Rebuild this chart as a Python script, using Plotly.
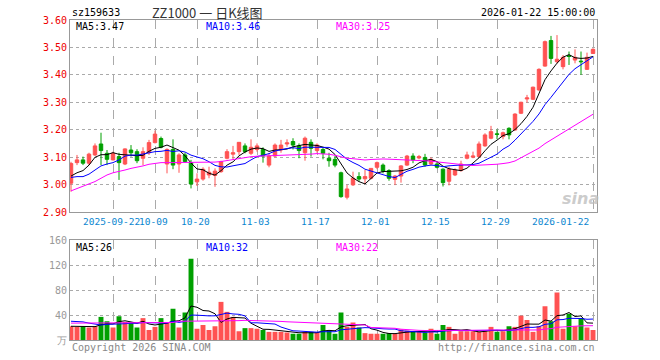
import plotly.graph_objects as go

dates = (
    ["2025-09-%02d" % d for d in [11, 12, 15, 16, 17, 18, 19, 22, 23, 24, 25, 26, 29, 30]]
    + ["2025-10-%02d" % d for d in [9, 10, 13, 14, 15, 16, 17, 20, 21, 22, 23, 24, 27, 28, 29, 30, 31]]
    + ["2025-11-%02d" % d for d in [3, 4, 5, 6, 7, 10, 11, 12, 13, 14, 17, 18, 19, 20, 21, 24, 25, 26, 27, 28]]
    + ["2025-12-%02d" % d for d in [1, 2, 3, 4, 5, 8, 9, 10, 11, 12, 15, 16, 17, 18, 19, 22, 23, 24, 25, 26, 29, 30, 31]]
    + ["2026-01-%02d" % d for d in [5, 6, 7, 8, 9, 12, 13, 14, 15, 16, 19, 20, 21, 22]]
)

opens = [3.005, 3.080, 3.090, 3.078, 3.108, 3.148, 3.114, 3.090, 3.102, 3.075,
         3.126, 3.120, 3.096, 3.116, 3.153, 3.168, 3.075, 3.128, 3.075, 3.108,
         3.080, 3.010, 3.020, 3.035, 3.033, 3.047, 3.096, 3.111, 3.120, 3.141,
         3.114, 3.128, 3.128, 3.071, 3.104, 3.126, 3.148, 3.157, 3.141, 3.116,
         3.154, 3.124, 3.128, 3.096, 3.092, 3.043, 2.954, 2.999, 3.029, 3.021,
         3.023, 3.063, 3.071, 3.051, 3.019, 3.031, 3.071, 3.104, 3.097, 3.099,
         3.075, 3.075, 3.056, 3.012, 3.035, 3.051, 3.096, 3.100, 3.102, 3.141,
         3.169, 3.185, 3.175, 3.205, 3.199, 3.260, 3.312, 3.311, 3.345, 3.432,
         3.525, 3.448, 3.430, 3.470, 3.454, 3.450, 3.420, 3.478]
highs = [3.083, 3.108, 3.102, 3.116, 3.150, 3.189, 3.126, 3.120, 3.116, 3.132,
         3.144, 3.129, 3.136, 3.163, 3.197, 3.175, 3.132, 3.165, 3.114, 3.116,
         3.090, 3.041, 3.063, 3.065, 3.059, 3.087, 3.129, 3.141, 3.155, 3.150,
         3.165, 3.150, 3.136, 3.114, 3.150, 3.163, 3.165, 3.169, 3.150, 3.175,
         3.165, 3.150, 3.136, 3.116, 3.104, 3.047, 2.999, 3.047, 3.045, 3.053,
         3.059, 3.084, 3.077, 3.056, 3.035, 3.071, 3.108, 3.114, 3.108, 3.112,
         3.099, 3.084, 3.059, 3.065, 3.059, 3.087, 3.120, 3.120, 3.157, 3.187,
         3.214, 3.201, 3.193, 3.209, 3.260, 3.302, 3.327, 3.357, 3.424, 3.525,
         3.542, 3.545, 3.472, 3.485, 3.493, 3.485, 3.481, 3.497]
lows = [2.974, 3.071, 3.071, 3.071, 3.104, 3.071, 3.071, 3.088, 3.017, 3.071,
        3.102, 3.078, 3.071, 3.108, 3.150, 3.132, 3.041, 3.056, 3.043, 3.080,
        2.986, 2.995, 3.014, 3.023, 2.992, 3.043, 3.092, 3.092, 3.108, 3.114,
        3.108, 3.120, 3.080, 3.063, 3.099, 3.116, 3.138, 3.128, 3.096, 3.087,
        3.102, 3.116, 3.092, 3.065, 3.063, 2.952, 2.946, 2.995, 3.011, 3.002,
        3.019, 3.056, 3.041, 3.014, 2.998, 3.007, 3.068, 3.078, 3.092, 3.065,
        3.071, 3.059, 2.993, 2.997, 3.031, 3.047, 3.092, 3.096, 3.099, 3.138,
        3.165, 3.165, 3.165, 3.165, 3.197, 3.257, 3.299, 3.308, 3.342, 3.430,
        3.440, 3.442, 3.420, 3.436, 3.442, 3.400, 3.418, 3.476]
closes = [3.077, 3.090, 3.078, 3.111, 3.141, 3.124, 3.092, 3.114, 3.080, 3.130,
          3.116, 3.087, 3.120, 3.153, 3.184, 3.136, 3.128, 3.071, 3.108, 3.084,
          3.002, 3.020, 3.056, 3.045, 3.049, 3.084, 3.120, 3.116, 3.154, 3.120,
          3.136, 3.141, 3.104, 3.104, 3.144, 3.144, 3.152, 3.144, 3.124, 3.169,
          3.132, 3.144, 3.114, 3.087, 3.071, 2.956, 2.984, 3.023, 3.020, 3.029,
          3.059, 3.080, 3.049, 3.023, 3.031, 3.068, 3.104, 3.090, 3.102, 3.071,
          3.092, 3.063, 3.007, 3.056, 3.053, 3.075, 3.108, 3.104, 3.148, 3.181,
          3.193, 3.183, 3.189, 3.181, 3.257, 3.300, 3.316, 3.355, 3.420, 3.521,
          3.460, 3.457, 3.464, 3.467, 3.464, 3.448, 3.464, 3.493]
volumes = [22, 21, 22, 20, 22, 37, 30, 20, 38, 29, 28, 20, 35, 16, 21, 35, 28, 50, 20, 44,
           130, 18, 24, 16, 22, 61, 45, 37, 14, 19, 19, 18, 16, 13, 13, 13, 12, 10, 10, 13,
           13, 12, 24, 15, 10, 44, 21, 28, 20, 11, 10, 10, 10, 11, 10, 17, 15, 13, 13, 12,
           18, 10, 24, 21, 10, 14, 14, 14, 13, 14, 21, 13, 14, 22, 21, 39, 32, 13, 22, 54,
           30, 76, 18, 42, 22, 35, 20, 16]

# moving-average values for the first days (history before the window)
ma5_head = [3.031, 3.043, 3.051, 3.071]
ma10_head = [3.026, 3.029, 3.029, 3.038, 3.053, 3.068, 3.075, 3.080, 3.090]
ma30_head = [2.977, 2.986, 2.995, 3.002, 3.011, 3.023, 3.035, 3.043, 3.047, 3.053,
             3.059, 3.063, 3.068, 3.074, 3.078, 3.080, 3.080, 3.080, 3.081, 3.081,
             3.081, 3.082, 3.082, 3.082, 3.082, 3.084, 3.088, 3.092, 3.096]
vma5_head = [22, 22, 21, 21]
vma10_head = [30, 30, 29, 27, 25, 24, 25, 25, 26]
vma30_head = [27, 27, 27, 27, 27, 28, 28, 28, 28, 28, 28, 28, 28, 28, 28, 28, 28, 28,
              30, 30, 30, 30, 30, 30, 30, 31, 31, 31, 31]

tick_dates = ["2025-09-22", "2025-10-09", "2025-10-20", "2025-11-03", "2025-11-17",
              "2025-12-01", "2025-12-15", "2025-12-29", "2026-01-22"]
tick_labels = ["2025-09-22", "10-09", "10-20", "11-03", "11-17", "12-01", "12-15", "12-29", "2026-01-22"]
price_ticks = [2.90, 3.00, 3.10, 3.20, 3.30, 3.40, 3.50, 3.60]
vol_ticks = [0, 40, 80, 120, 160]
vol_ticktext = ["万", "40", "80", "120", "160"]


def moving(values, n, head):
    out = list(head)
    for i in range(len(head), len(values)):
        out.append(sum(values[i - n + 1:i + 1]) / n)
    return out


ma5 = moving(closes, 5, ma5_head)
ma10 = moving(closes, 10, ma10_head)
ma30 = moving(closes, 30, ma30_head)
vma5 = moving(volumes, 5, vma5_head)
vma10 = moving(volumes, 10, vma10_head)
vma30 = moving(volumes, 30, vma30_head)

RED = "#FF5252"
GREEN = "#00A000"
MONO = "DejaVu Sans Mono"

fig = go.Figure()
fig.add_trace(go.Candlestick(
    x=dates, open=opens, high=highs, low=lows, close=closes,
    increasing=dict(line=dict(color=RED, width=1), fillcolor=RED),
    decreasing=dict(line=dict(color=GREEN, width=1), fillcolor=GREEN),
    xaxis="x", yaxis="y", hoverinfo="skip", showlegend=False))
for ys, col in [(ma5, "black"), (ma10, "#0000FF"), (ma30, "#FF00FF")]:
    fig.add_trace(go.Scatter(x=dates, y=ys, mode="lines", line=dict(color=col, width=1),
                             xaxis="x", yaxis="y", hoverinfo="skip", showlegend=False))

bar_colors = [RED if c >= o else GREEN for o, c in zip(opens, closes)]
fig.add_trace(go.Bar(x=dates, y=volumes, marker=dict(color=bar_colors, line=dict(width=0)),
                     width=0.82, xaxis="x2", yaxis="y2", hoverinfo="skip", showlegend=False))
for ys, col in [(vma5, "black"), (vma10, "#0000FF"), (vma30, "#FF00FF")]:
    fig.add_trace(go.Scatter(x=dates, y=ys, mode="lines", line=dict(color=col, width=1),
                             xaxis="x2", yaxis="y2", hoverinfo="skip", showlegend=False))

xr = [-1 / 6, 87 + 4 / 6]
axis_common = dict(showline=True, mirror=True, linecolor="#999999", linewidth=1,
                   zeroline=False, ticks="")
fig.update_layout(
    width=660, height=360, margin=dict(l=70, r=63, t=20, b=20),
    paper_bgcolor="white", plot_bgcolor="white", boxgap=0.18,
    xaxis=dict(domain=[0, 1], anchor="y", type="category", range=xr,
               tickvals=tick_dates, showticklabels=False,
               showgrid=True, gridcolor="#AAAAAA", griddash="dash", gridwidth=1,
               rangeslider=dict(visible=False), **axis_common),
    yaxis=dict(domain=[0.4, 1], anchor="x", range=[2.90, 3.60], tickvals=price_ticks,
               tickformat=".2f", tickfont=dict(family=MONO, size=10, color="#EE0000"),
               showgrid=True, gridcolor="#AAAAAA", griddash="dot", gridwidth=1, **axis_common),
    xaxis2=dict(domain=[0, 1], anchor="y2", type="category", range=xr, matches="x",
                tickvals=tick_dates, showticklabels=False,
                showgrid=True, gridcolor="#AAAAAA", griddash="dash", gridwidth=1, **axis_common),
    yaxis2=dict(domain=[0, 0.3125], anchor="x2", range=[0, 160], tickvals=vol_ticks,
                ticktext=vol_ticktext, tickfont=dict(family=MONO, size=10, color="#999999"),
                showgrid=True, gridcolor="#AAAAAA", griddash="dot", gridwidth=1, **axis_common),
)


def px_x(px):
    return (px - 70) / 527.0


def px_y(py):
    return (340 - py) / 320.0


def note(text, x, y, color="black", size=10, family=MONO, xanchor="left", **kw):
    fig.add_annotation(text=text, x=px_x(x), y=px_y(y), xref="paper", yref="paper",
                       showarrow=False, xanchor=xanchor, yanchor="middle",
                       font=dict(family=family, size=size, color=color), **kw)


# date labels under the price panel (positioned from each tick's category index)
x0 = xr[0]
unit = 527.0 / (xr[1] - xr[0])
for k, (d, lab) in enumerate(zip(tick_dates, tick_labels)):
    gx = 70 + (dates.index(d) - x0) * unit
    if k == len(tick_dates) - 1:
        note(lab, gx - 2, 221, color="#0A86D0", size=9.5, xanchor="right")
    else:
        note(lab, gx - 1.5, 221, color="#0A86D0", size=9.5, xanchor="center")

note("sz159633", 70, 12)
note("ZZ1000 一 日K线图", 207, 12, size=13, family="Noto Sans CJK SC, DejaVu Sans Mono",
     color="#333333", xanchor="center")
note("2026-01-22 15:00:00", 597, 12, xanchor="right")
note("MA5:3.47", 74, 26)
note("MA10:3.46", 204, 26, color="#0000FF")
note("MA30:3.25", 334, 26, color="#FF00FF")
note("MA5:26", 74, 247)
note("MA10:32", 204, 247, color="#0000FF")
note("MA30:22", 334, 247, color="#FF00FF")
note("Copyright 2026 SINA.COM", 70, 347, color="#888888")
note("http://finance.sina.com.cn", 597, 347, color="#888888", xanchor="right")
note("<b><i>sina</i></b>", 580, 198, color="rgba(190,190,190,0.8)", size=16,
     family="DejaVu Sans", xanchor="center")

fig.write_html("out.html", config={"displayModeBar": False},
               post_script="document.body.style.margin='0';")
